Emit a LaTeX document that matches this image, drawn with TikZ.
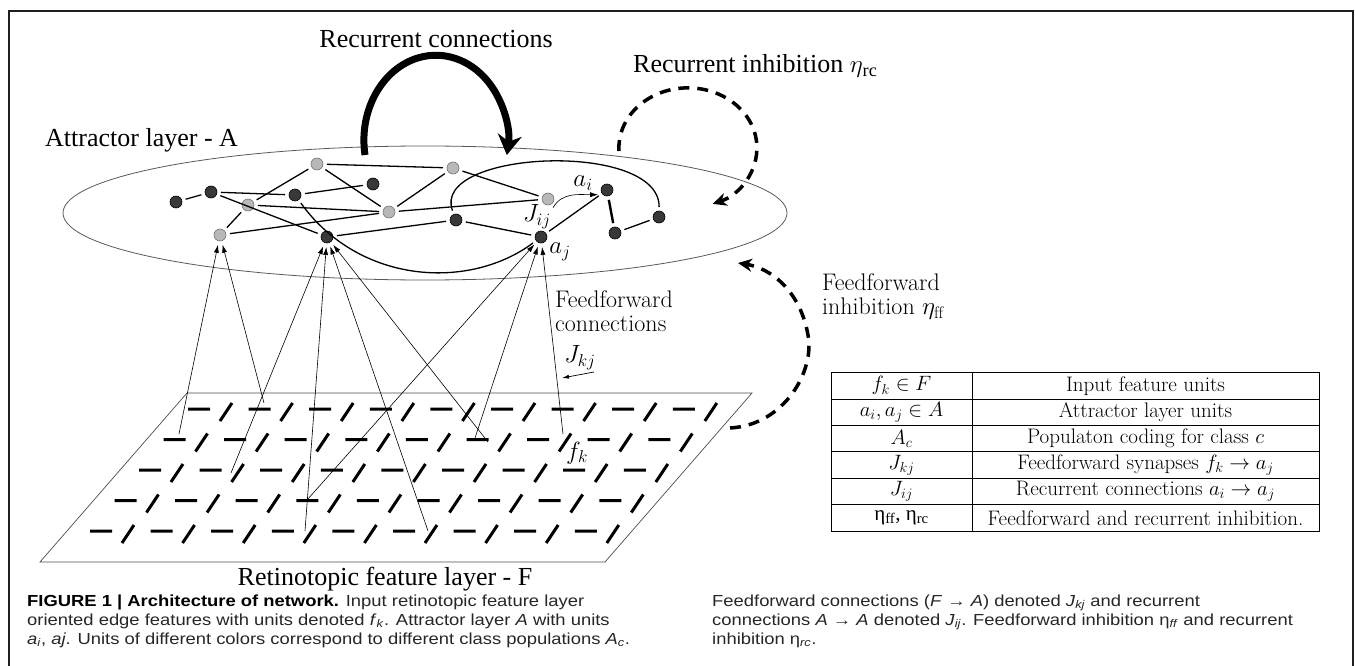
\documentclass[tikz,border=0pt]{standalone}
\usepackage{fontspec}
\newfontfamily\timesfont{Liberation Serif}
\newfontfamily\capfont{Liberation Sans}[FakeStretch=1.15]
\usetikzlibrary{arrows.meta}
\usetikzlibrary{positioning}

\newcommand{\citsub}[2]{\textit{#1}\textsubscript{\textit{#2}}}

\tikzset{
  lunit/.style={circle, fill=black!28, draw=black!55, line width=0.6pt, minimum size=12pt, inner sep=0pt, outer sep=4pt},
  dunit/.style={circle, fill=black!78, draw=black, line width=0.6pt, minimum size=12pt, inner sep=0pt, outer sep=4pt},
  link/.style={line width=1.3pt},
  ffwd/.style={line width=0.6pt, -{Latex[length=8pt, width=5pt]}},
  inhib/.style={line width=3.5pt, dash pattern=on 11pt off 8pt, -{Stealth[length=14pt, width=13pt]}},
  bigtext/.style={font=\timesfont\fontsize{26}{30}\selectfont, inner sep=0pt},
  cmtext/.style={font=\fontsize{24}{24}\selectfont, inner sep=0pt, anchor=base west},
  mathlbl/.style={font=\fontsize{24}{24}\selectfont, inner sep=0pt},
  tabtext/.style={font=\fontsize{21}{24}\selectfont, inner sep=0pt},
  captext/.style={font=\capfont\fontsize{16}{19}\selectfont, text=black!85, inner sep=0pt, anchor=base west},
  featmark/.style={line width=3pt},
}

\begin{document}
\begin{tikzpicture}[x=1pt, y=1pt]
\useasboundingbox (0,0) rectangle (1355,-666);

% frame
\draw[line width=2pt, black!88] (9,-666) -- (9,-11) -- (1353,-11) -- (1353,-666);

% attractor layer
\draw[line width=0.8pt, black!65] (425,-213) ellipse [x radius=362, y radius=67];
\node[bigtext, anchor=west] (attrlabel) at (45,-140) {Attractor layer - A};

\node[lunit] (L1) at (317,-164) {};
\node[lunit] (L2) at (453,-168) {};
\node[lunit] (L3) at (248,-205) {};
\node[lunit] (L4) at (389,-212) {};
\node[lunit] (L5) at (548,-199) {};
\node[lunit] (L6) at (220,-235) {};
\node[dunit] (D1) at (176,-202) {};
\node[dunit] (D2) at (211,-192) {};
\node[dunit] (D3) at (295,-195) {};
\node[dunit] (D4) at (373,-184) {};
\node[dunit] (D5) at (456,-220) {};
\node[dunit] (D6) at (327,-237) {};
\node[dunit] (D7) at (541,-237) {};
\node[dunit] (D8) at (607,-190) {};
\node[dunit] (D9) at (615,-233) {};
\node[dunit] (D10) at (659,-217) {};

\draw[link] (D1) -- (D2);
\draw[link] (D2) -- (D3);
\draw[link] (D3) -- (D4);
\draw[link] (L1) -- (L2);
\draw[link] (L1) -- (L3);
\draw[link] (L1) -- (L4);
\draw[link] (L2) -- (L4);
\draw[link] (L2) -- (L5);
\draw[link] (L3) -- (L4);
\draw[link] (L3) -- (L6);
\draw[link] (L6) -- (L4);
\draw[link] (L4) -- (L5);
\draw[link] (D2) -- (D6);
\draw[link] (D6) -- (D5);
\draw[link] (D5) -- (D7);
\draw[link] (D7) -- (D8);
\draw[line width=2.4pt] (D8) -- (D9);
\draw[link] (D9) -- (D10);
\draw[link] (D3) .. controls (360,-285) and (470,-290) .. (D7);
\draw[link] (D5) .. controls (430,-150) and (660,-140) .. (D10);
\draw[ffwd] (L5.-60) to[out=60, in=180] (D8.208);

\node[mathlbl] (ailabel) at (583,-183) {$a_i$};
\node[mathlbl] (jijlabel) at (537,-217) {$J_{ij}$};
\node[mathlbl] (ajlabel) at (560,-252) {$a_j$};

% recurrent connections
\node[bigtext] (rclabel) at (436,-39) {Recurrent connections};
\coordinate (rcfrom) at (365,-155);
\draw[line width=7pt, -{Stealth[length=20pt, width=24pt]}] (rcfrom) arc[start angle=190, end angle=-10, x radius=72, y radius=85];

% recurrent inhibition
\node[bigtext, anchor=west] (rilabel) at (633,-66) {Recurrent inhibition $\eta$\textsubscript{rc}};
\coordinate (rifrom) at (619,-151);
\draw[inhib] (rifrom) arc[start angle=183, end angle=-69, x radius=69, y radius=60];

% feedforward inhibition
\node[cmtext] (fiword) at (822,-290) {Feedforward};
\node[cmtext] (fieta) at (822,-314.5) {inhibition $\eta_{\mathrm{ff}}$};
\coordinate (fifrom) at (730,-428);
\coordinate (fimid) at (808,-335);
\coordinate (fito) at (738,-263);
\draw[inhib] (fifrom) .. controls (785,-425) and (815,-370) .. (fimid) .. controls (800,-290) and (770,-268) .. (fito);

% retinotopic feature layer
\draw[line width=0.7pt, black!70] (187,-393) -- (752,-393) -- (605,-562) -- (40,-562) -- cycle;
\foreach \r in {0,...,4}{
  \foreach \k in {0,...,8}{
    \pgfmathsetmacro{\fx}{199-24.5*\r+60.6*\k}
    \pgfmathsetmacro{\fy}{-409-30.5*\r}
    \draw[featmark] (\fx-11,\fy) -- (\fx+11,\fy) (\fx+21,\fy-12) -- (\fx+33,\fy+6);
  }
}
\node[bigtext] (retlabel) at (385,-579) {Retinotopic feature layer - F};
\node[mathlbl] (fklabel) at (577,-453) {$f_k$};

% feedforward connections
\coordinate (ffa) at (179,-434);
\coordinate (ffb) at (264,-403);
\coordinate (ffc) at (231,-473);
\coordinate (ffd) at (305,-531);
\coordinate (ffe) at (428,-531);
\coordinate (fff) at (488,-442);
\coordinate (ffg) at (307,-500);
\coordinate (ffh) at (475,-438);
\coordinate (ffi) at (563,-434);
\draw[ffwd] (ffa) -- (L6);
\draw[ffwd] (ffb) -- (L6);
\draw[ffwd] (ffc) -- (D6);
\draw[ffwd] (ffd) -- (D6);
\draw[ffwd] (ffe) -- (D6);
\draw[ffwd] (fff) -- (D6);
\draw[ffwd] (ffg) -- (D7);
\draw[ffwd] (ffh) -- (D7);
\draw[ffwd] (ffi) -- (D7);

\node[cmtext] (fcword) at (555,-307) {Feedforward};
\node[cmtext] (fcconn) at (555,-331.5) {connections};
\node[mathlbl] (jkjlabel) at (580,-358) {$J_{kj}$};
\coordinate (jkfrom) at (594,-372);
\coordinate (jkto) at (562,-378);
\draw[line width=0.7pt, -{Latex[length=7pt, width=4pt]}] (jkfrom) -- (jkto);

% table of symbols
\draw[line width=0.7pt] (831,-372.6) rectangle (1319,-531);
\foreach \r in {1,...,5}
  \draw[line width=0.7pt] (831,-372.6-26.4*\r) -- (1319,-372.6-26.4*\r);
\draw[line width=0.7pt] (972,-372.6) -- (972,-531);
\foreach \r/\lhs/\rhs in {1/{$f_k\in F$}/{Input feature units},
    2/{$a_i, a_j\in A$}/{Attractor layer units},
    3/{$A_c$}/{Populaton coding for class $c$},
    4/{$J_{kj}$}/{Feedforward synapses $f_k\rightarrow a_j$},
    5/{$J_{ij}$}/{Recurrent connections $a_i\rightarrow a_j$},
    6/{{\timesfont η\textsubscript{ff}, η\textsubscript{rc}}}/{Feedforward and recurrent inhibition.}}{
  \node[tabtext] (lhs\r) at (901.5,-359.4-26.4*\r) {\lhs};
  \node[tabtext] (rhs\r) at (1145.5,-359.4-26.4*\r) {\rhs};
}

% caption
\node[captext] (cap1) at (27,-606) {{\bfseries\color{black} FIGURE 1 | Architecture of network.} Input retinotopic feature layer};
\node[captext] (cap2) at (27,-625) {oriented edge features with units denoted \citsub{f}{k}. Attractor layer \textit{A} with units};
\node[captext] (cap3) at (27,-644) {\citsub{a}{i}, \textit{aj}. Units of different colors correspond to different class populations \citsub{A}{c}.};
\node[captext] (cap4) at (712,-606) {Feedforward connections (\textit{F} → \textit{A}) denoted \citsub{J}{kj} and recurrent};
\node[captext] (cap5) at (712,-625) {connections \textit{A} → \textit{A} denoted \citsub{J}{ij}. Feedforward inhibition η\textsubscript{\textit{ff}} and recurrent};
\node[captext] (cap6) at (712,-644) {inhibition η\textsubscript{\textit{rc}}.};

\end{tikzpicture}
\end{document}
